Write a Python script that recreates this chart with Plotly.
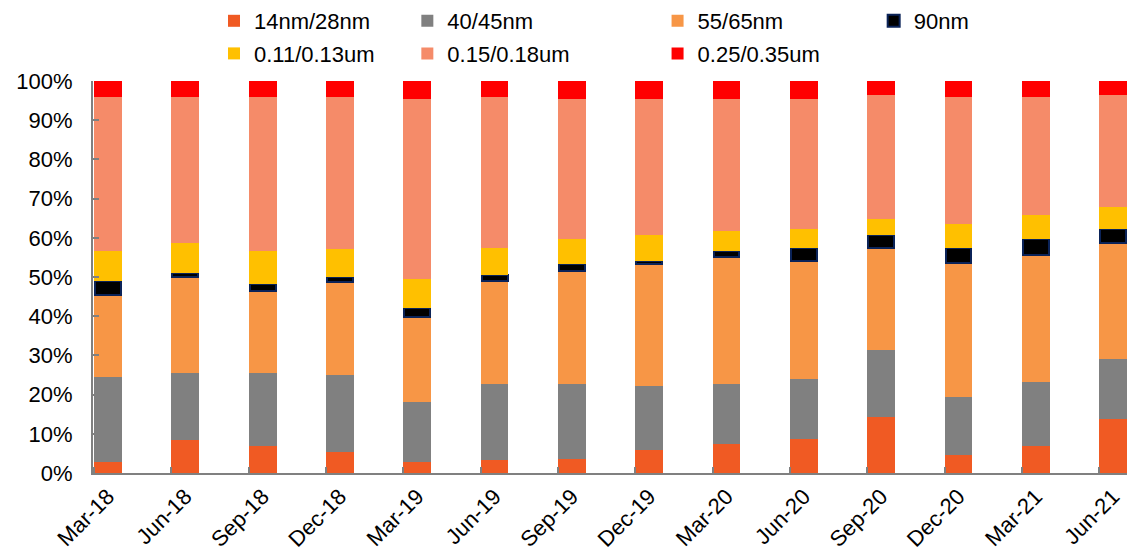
import plotly.graph_objects as go

quarters = ["Mar-18", "Jun-18", "Sep-18", "Dec-18", "Mar-19", "Jun-19", "Sep-19",
            "Dec-19", "Mar-20", "Jun-20", "Sep-20", "Dec-20", "Mar-21", "Jun-21"]

nm14_28 = [2.7, 8.3, 6.8, 5.3, 2.7, 3.2, 3.7, 5.8, 7.3, 8.8, 14.4, 4.7, 6.8, 13.9]
nm40_45 = [21.9, 17.3, 18.8, 19.8, 15.3, 19.4, 18.9, 16.3, 15.3, 15.3, 16.9, 14.8, 16.3, 15.3]
nm55_65 = [20.9, 24.5, 20.9, 23.5, 21.9, 26.5, 29.0, 31.1, 32.6, 30.1, 26.0, 34.2, 32.6, 29.6]
nm90 = [3.6, 1.0, 1.8, 1.5, 2.1, 1.5, 1.6, 1.0, 1.5, 3.1, 3.5, 3.6, 4.1, 3.5]
um011_013 = [7.6, 7.7, 8.4, 7.1, 7.6, 6.7, 6.6, 6.6, 5.1, 5.0, 4.1, 6.1, 6.1, 5.6]
um015_018 = [39.3, 37.2, 39.3, 38.8, 45.9, 38.7, 35.7, 34.7, 33.7, 33.2, 31.6, 32.6, 30.1, 28.6]
um025_035 = [4.0, 4.0, 4.0, 4.0, 4.5, 4.0, 4.5, 4.5, 4.5, 4.5, 3.5, 4.0, 4.0, 3.5]

series = [
    ("14nm/28nm", nm14_28, "#F05A23", None, "legend"),
    ("40/45nm", nm40_45, "#808080", None, "legend2"),
    ("55/65nm", nm55_65, "#F79646", None, "legend3"),
    ("90nm", nm90, "#000000", "#0B2358", "legend4"),
    ("0.11/0.13um", um011_013, "#FFC000", None, "legend"),
    ("0.15/0.18um", um015_018, "#F58B69", None, "legend2"),
    ("0.25/0.35um", um025_035, "#FF0000", None, "legend3"),
]

FONT = "Liberation Sans, Arial, sans-serif"
FS = 22
xs = list(range(len(quarters)))

fig = go.Figure()
for name, vals, color, line_color, lg in series:
    fig.add_trace(go.Bar(
        x=xs, y=vals, name=name, width=0.335 if line_color else 0.36,
        marker=dict(color=color,
                    line=dict(color=line_color or color, width=2 if line_color else 0)),
        legend=lg, legendgroup=name,
    ))

leg_common = dict(orientation="v", xanchor="left", yanchor="top", y=1.207,
                  font=dict(family=FONT, size=FS, color="#000000"),
                  bgcolor="rgba(0,0,0,0)", tracegroupgap=1, traceorder="grouped",
                  itemclick=False)

fig.update_layout(
    barmode="stack",
    width=1127, height=558,
    margin=dict(l=93, r=0, t=81, b=85),
    plot_bgcolor="white", paper_bgcolor="white",
    font=dict(family=FONT, size=FS, color="#000000"),
    legend=dict(x=0.117, **leg_common),
    legend2=dict(x=0.304, **leg_common),
    legend3=dict(x=0.546, **leg_common),
    legend4=dict(x=0.755, **leg_common),
    xaxis=dict(
        range=[-0.194, 13.18],
        tickmode="array", tickvals=xs, ticktext=quarters,
        tickangle=-45, ticks="", showgrid=False, zeroline=False,
        showline=True, linecolor="#808080", linewidth=2,
        tickfont=dict(family=FONT, size=FS, color="#000000"),
        minor=dict(tickmode="array", tickvals=[v - 0.18 for v in xs], ticks="inside",
                   ticklen=6, tickcolor="#808080", tickwidth=2, showgrid=False),
    ),
    yaxis=dict(
        range=[0, 100], tickmode="array", tickvals=list(range(0, 101, 10)),
        ticktext=[f"{v}%" for v in range(0, 101, 10)],
        ticks="inside", ticklen=6, tickcolor="#808080", tickwidth=2,
        showgrid=False, zeroline=False,
        showline=True, linecolor="#808080", linewidth=2,
        ticklabelstandoff=14,
        tickfont=dict(family=FONT, size=FS, color="#000000"),
    ),
)

fig.write_html("out.html")
